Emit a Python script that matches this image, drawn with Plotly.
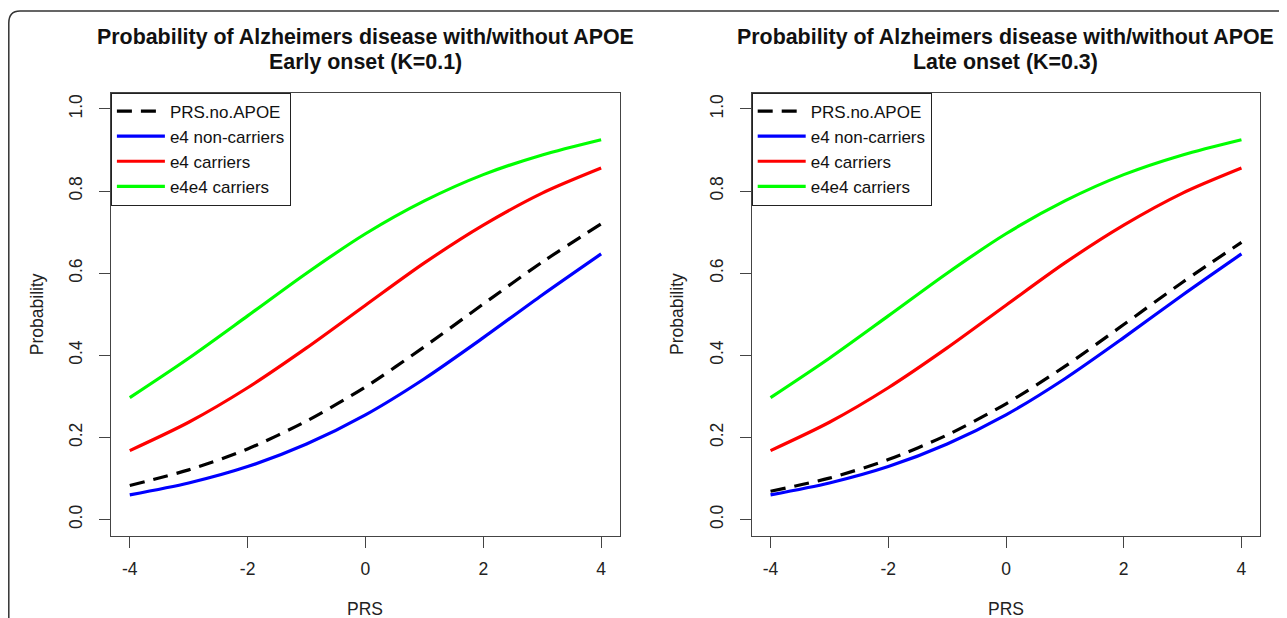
import plotly.graph_objects as go

# page body has an 8px margin, so the figure is sized to the remaining area
OFF = 8
W, H = 1287 - OFF, 618 - OFF

# ---------------- data ----------------
prs = [-4, -3, -2, -1, 0, 1, 2, 3, 4]

early_no_apoe = [0.083, 0.121, 0.172, 0.240, 0.323, 0.421, 0.525, 0.627, 0.720]
early_noncarriers = [0.060, 0.089, 0.129, 0.184, 0.255, 0.343, 0.443, 0.547, 0.647]
early_carriers = [0.168, 0.237, 0.321, 0.418, 0.522, 0.625, 0.717, 0.795, 0.856]
early_e4e4 = [0.297, 0.393, 0.496, 0.600, 0.696, 0.776, 0.840, 0.888, 0.925]

late_no_apoe = [0.069, 0.101, 0.146, 0.206, 0.282, 0.373, 0.475, 0.578, 0.675]
late_noncarriers = [0.060, 0.089, 0.129, 0.184, 0.255, 0.343, 0.443, 0.547, 0.647]
late_carriers = [0.168, 0.237, 0.321, 0.418, 0.522, 0.625, 0.717, 0.795, 0.856]
late_e4e4 = [0.297, 0.393, 0.496, 0.600, 0.696, 0.776, 0.840, 0.888, 0.925]

series_names = ["PRS.no.APOE", "e4 non-carriers", "e4 carriers", "e4e4 carriers"]
series_colors = ["#000000", "#0000FF", "#FF0000", "#00FF00"]
x_ticks = [-4, -2, 0, 2, 4]
y_ticks = [0.0, 0.2, 0.4, 0.6, 0.8, 1.0]
y_tick_text = ["0.0", "0.2", "0.4", "0.6", "0.8", "1.0"]
titles = [
    ("Probability of Alzheimers disease with/without APOE", "Early onset (K=0.1)"),
    ("Probability of Alzheimers disease with/without APOE", "Late onset (K=0.3)"),
]

FONT = "Liberation Sans, Arial, Helvetica, sans-serif"
BASE = 17.5

fig = go.Figure()

panels = [
    ("x", "y", "legend", [early_no_apoe, early_noncarriers, early_carriers, early_e4e4]),
    ("x2", "y2", "legend2", [late_no_apoe, late_noncarriers, late_carriers, late_e4e4]),
]
for xa, ya, lg, ser in panels:
    for name, col, vals in zip(series_names, series_colors, ser):
        fig.add_trace(go.Scatter(
            x=prs, y=vals, mode="lines", name=name,
            line=dict(color=col, width=3.2, shape="spline", smoothing=0.8,
                      dash="15px,9px" if name == "PRS.no.APOE" else "solid"),
            xaxis=xa, yaxis=ya, legend=lg, showlegend=True,
        ))

# geometry (page pixels of the reference)
L1, R1 = 110.9, 620.0
L2, R2 = 751.7, 1260.3
TOP, BOT = 92.5, 536.0

def px(v):
    return (v - OFF) / W

def py(v):
    return 1 - (v - OFF) / H

axis_common = dict(
    showline=True, mirror=True, linecolor="#444", linewidth=1,
    ticks="outside", ticklen=11, tickcolor="#444", tickwidth=1,
    showgrid=False, zeroline=False,
    tickfont=dict(family=FONT, size=BASE, color="#222"),
)

xa = dict(axis_common, range=[-4.32, 4.32], tickvals=x_ticks,
          ticktext=[str(t) for t in x_ticks], ticklabelstandoff=6)
ya = dict(axis_common, range=[-0.04, 1.04], tickvals=y_ticks, ticktext=y_tick_text,
          tickangle=-90, ticklabelstandoff=10)

legend_common = dict(
    y=py(TOP), xanchor="left", yanchor="top",
    bordercolor="#222", borderwidth=1, bgcolor="white",
    font=dict(family=FONT, size=17, color="#111"),
    tracegroupgap=0, itemwidth=48,
)

annotations = []
for (t1, t2), (l, r) in zip(titles, [(L1, R1), (L2, R2)]):
    cx = px((l + r) / 2)
    annotations.append(dict(text="<b>%s</b>" % t1, x=cx, y=py(37.5), xref="paper", yref="paper",
                            showarrow=False, xanchor="center", yanchor="middle",
                            font=dict(family=FONT, size=21.4, color="#111")))
    annotations.append(dict(text="<b>%s</b>" % t2, x=cx, y=py(61.5), xref="paper", yref="paper",
                            showarrow=False, xanchor="center", yanchor="middle",
                            font=dict(family=FONT, size=21.4, color="#111")))
    annotations.append(dict(text="PRS", x=cx, y=py(608.5), xref="paper", yref="paper",
                            showarrow=False, xanchor="center", yanchor="middle",
                            font=dict(family=FONT, size=BASE, color="#222")))
    annotations.append(dict(text="Probability", x=px(l - 74), y=py((TOP + BOT) / 2),
                            xref="paper", yref="paper", textangle=-90,
                            showarrow=False, xanchor="center", yanchor="middle",
                            font=dict(family=FONT, size=BASE, color="#222")))

# outer rounded frame (left edge sits just inside the page margin)
x0 = 0.8 / W
yt = py(11)
frame_path = "M %f,0 L %f,%f Q %f,%f %f,%f L 1.0,%f" % (
    x0, x0, py(23), x0, yt, px(20), yt, yt)

fig.update_layout(
    width=W, height=H, autosize=False,
    margin=dict(l=0, r=0, t=0, b=0),
    paper_bgcolor="white", plot_bgcolor="white",
    font=dict(family=FONT, size=BASE, color="#222"),
    xaxis=dict(xa, domain=[px(L1), px(R1)], anchor="y"),
    yaxis=dict(ya, domain=[py(BOT), py(TOP)], anchor="x"),
    xaxis2=dict(xa, domain=[px(L2), px(R2)], anchor="y2"),
    yaxis2=dict(ya, domain=[py(BOT), py(TOP)], anchor="x2"),
    legend=dict(legend_common, x=px(L1)),
    legend2=dict(legend_common, x=px(L2)),
    annotations=annotations,
    shapes=[dict(type="path", path=frame_path, xref="paper", yref="paper",
                 line=dict(color="#333", width=1.5))],
)

fig.write_html("out.html")
